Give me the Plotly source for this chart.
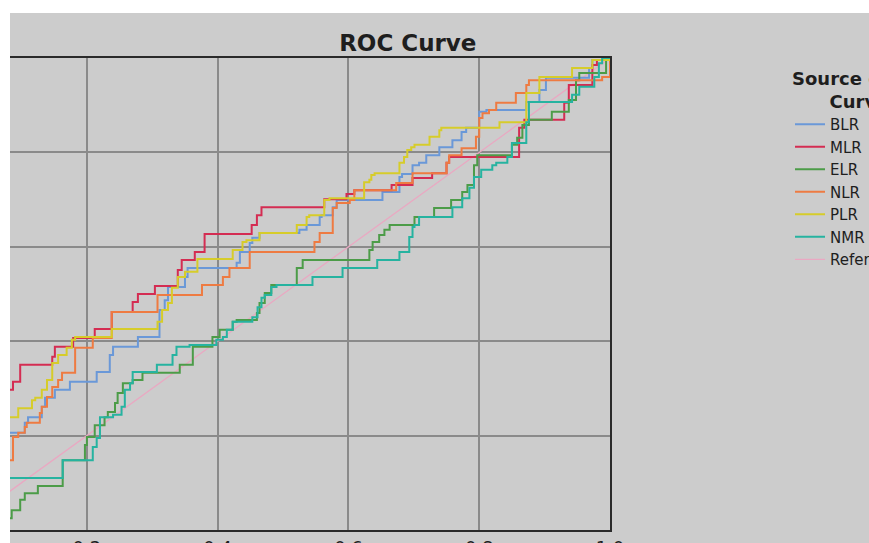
import plotly.graph_objects as go

# ---- data (false positive rate = 1 - specificity, true positive rate = sensitivity) ----
series_names = ["BLR", "MLR", "ELR", "NLR", "PLR", "NMR"]
series_colors = ["#6a98d8", "#d42c52", "#4c9c48", "#ee7b42", "#d6cc2a", "#26b3a0"]

blr_fpr = [0, 0.07, 0.105, 0.110, 0.131, 0.136, 0.151, 0.174, 0.215, 0.235, 0.240, 0.278, 0.311, 0.319,
           0.324, 0.350, 0.354, 0.429, 0.434, 0.449, 0.453, 0.464, 0.525, 0.536, 0.556, 0.559, 0.576,
           0.582, 0.652, 0.678, 0.682, 0.698, 0.708, 0.719, 0.739, 0.759, 0.773, 0.780, 0.800, 0.811,
           0.872, 0.892, 0.902, 0.968, 0.973, 1.0]
blr_tpr = [0, 0.206, 0.227, 0.239, 0.261, 0.280, 0.297, 0.314, 0.335, 0.371, 0.388, 0.409, 0.466, 0.487,
           0.515, 0.536, 0.555, 0.566, 0.589, 0.608, 0.619, 0.629, 0.636, 0.646, 0.663, 0.667, 0.684,
           0.699, 0.716, 0.748, 0.754, 0.773, 0.778, 0.794, 0.811, 0.826, 0.843, 0.852, 0.886, 0.890,
           0.907, 0.932, 0.958, 0.979, 0.996, 1.0]

mlr_fpr = [0, 0.07, 0.087, 0.098, 0.147, 0.151, 0.179, 0.212, 0.238, 0.270, 0.278, 0.304, 0.339, 0.345,
           0.365, 0.380, 0.452, 0.460, 0.467, 0.563, 0.597, 0.609, 0.666, 0.698, 0.728, 0.750, 0.754,
           0.861, 0.869, 0.930, 0.937, 0.973, 0.980, 1.0]
mlr_tpr = [0, 0.297, 0.314, 0.350, 0.367, 0.388, 0.407, 0.426, 0.462, 0.483, 0.500, 0.517, 0.551, 0.572,
           0.589, 0.627, 0.646, 0.667, 0.684, 0.701, 0.712, 0.720, 0.731, 0.746, 0.756, 0.778, 0.790,
           0.852, 0.869, 0.905, 0.943, 0.985, 0.996, 1.0]

elr_fpr = [0, 0.07, 0.085, 0.098, 0.105, 0.125, 0.163, 0.197, 0.200, 0.212, 0.227, 0.232, 0.243, 0.247,
           0.255, 0.270, 0.285, 0.342, 0.362, 0.392, 0.403, 0.423, 0.429, 0.460, 0.464, 0.472, 0.482,
           0.521, 0.530, 0.632, 0.637, 0.647, 0.655, 0.663, 0.701, 0.731, 0.757, 0.774, 0.782, 0.792,
           0.797, 0.850, 0.858, 0.866, 0.876, 0.911, 0.937, 0.948, 0.953, 0.994, 1.0]
elr_tpr = [0, 0.025, 0.042, 0.064, 0.078, 0.093, 0.148, 0.180, 0.197, 0.222, 0.239, 0.250, 0.269, 0.290,
           0.311, 0.318, 0.333, 0.350, 0.388, 0.409, 0.424, 0.441, 0.445, 0.460, 0.481, 0.502, 0.519,
           0.555, 0.572, 0.593, 0.610, 0.625, 0.636, 0.646, 0.663, 0.682, 0.699, 0.716, 0.731, 0.773,
           0.794, 0.816, 0.831, 0.858, 0.869, 0.886, 0.911, 0.953, 0.968, 0.996, 1.0]

nlr_fpr = [0, 0.07, 0.087, 0.095, 0.105, 0.108, 0.128, 0.131, 0.139, 0.147, 0.156, 0.162, 0.182, 0.209,
           0.238, 0.308, 0.376, 0.408, 0.418, 0.449, 0.548, 0.556, 0.576, 0.582, 0.602, 0.609, 0.673,
           0.698, 0.750, 0.754, 0.773, 0.795, 0.800, 0.805, 0.815, 0.826, 0.856, 0.872, 0.876, 0.988, 1.0]
nlr_tpr = [0, 0.148, 0.197, 0.206, 0.218, 0.227, 0.248, 0.261, 0.282, 0.303, 0.318, 0.333, 0.386, 0.407,
           0.462, 0.498, 0.519, 0.536, 0.555, 0.589, 0.610, 0.629, 0.682, 0.693, 0.699, 0.720, 0.735,
           0.756, 0.778, 0.794, 0.809, 0.833, 0.873, 0.883, 0.890, 0.905, 0.926, 0.943, 0.953, 0.960, 1.0]

plr_fpr = [0, 0.07, 0.095, 0.116, 0.121, 0.131, 0.139, 0.147, 0.156, 0.169, 0.177, 0.182, 0.238, 0.308,
           0.315, 0.324, 0.330, 0.339, 0.350, 0.369, 0.423, 0.438, 0.444, 0.464, 0.521, 0.536, 0.540,
           0.563, 0.571, 0.624, 0.632, 0.635, 0.640, 0.678, 0.685, 0.690, 0.696, 0.701, 0.724, 0.739,
           0.742, 0.831, 0.872, 0.892, 0.942, 0.973, 1.0]
plr_tpr = [0, 0.239, 0.258, 0.275, 0.280, 0.297, 0.318, 0.354, 0.371, 0.386, 0.403, 0.409, 0.426, 0.441,
           0.466, 0.481, 0.513, 0.536, 0.547, 0.574, 0.593, 0.610, 0.614, 0.629, 0.646, 0.663, 0.667,
           0.699, 0.703, 0.737, 0.742, 0.752, 0.756, 0.778, 0.790, 0.805, 0.811, 0.816, 0.833, 0.847,
           0.852, 0.864, 0.926, 0.960, 0.979, 0.996, 1.0]

nmr_fpr = [0, 0.07, 0.163, 0.209, 0.215, 0.220, 0.240, 0.253, 0.258, 0.266, 0.270, 0.307, 0.331, 0.337,
           0.357, 0.398, 0.408, 0.414, 0.423, 0.453, 0.461, 0.467, 0.472, 0.482, 0.490, 0.545, 0.591,
           0.644, 0.678, 0.693, 0.698, 0.701, 0.708, 0.759, 0.774, 0.785, 0.792, 0.803, 0.820, 0.826,
           0.843, 0.850, 0.872, 0.876, 0.942, 0.953, 0.976, 0.983, 0.988, 1.0]
nmr_tpr = [0, 0.110, 0.148, 0.176, 0.195, 0.239, 0.244, 0.261, 0.297, 0.311, 0.335, 0.350, 0.371, 0.388,
           0.392, 0.403, 0.409, 0.424, 0.441, 0.451, 0.472, 0.492, 0.498, 0.515, 0.519, 0.536, 0.555,
           0.572, 0.589, 0.621, 0.642, 0.646, 0.663, 0.684, 0.703, 0.725, 0.748, 0.763, 0.773, 0.778,
           0.790, 0.820, 0.864, 0.907, 0.922, 0.939, 0.960, 0.989, 1.0, 1.0]

reference_x = [0, 1]
reference_y = [0, 1]

x_ticks = [0.2, 0.4, 0.6, 0.8, 1.0]
y_ticks = [0.2, 0.4, 0.6, 0.8]

all_fpr = [blr_fpr, mlr_fpr, elr_fpr, nlr_fpr, plr_fpr, nmr_fpr]
all_tpr = [blr_tpr, mlr_tpr, elr_tpr, nlr_tpr, plr_tpr, nmr_tpr]

BG = "#cccccc"
GRID = "#8a8a8a"
TEXT = "#1e1e1e"
FONT = "DejaVu Sans"
NB = "\u00a0"

fig = go.Figure()

fig.add_trace(go.Scatter(
    x=reference_x, y=reference_y, mode="lines", name="Reference Line",
    line=dict(color="#eaa8c2", width=1.3), legendrank=1007, hoverinfo="skip"))

for i, (name, color) in enumerate(zip(series_names, series_colors)):
    fig.add_trace(go.Scatter(
        x=all_fpr[i], y=all_tpr[i], mode="lines", name=name,
        line=dict(color=color, width=2, shape="hv"), legendrank=1000 + i))

fig.update_layout(
    width=869, height=543,
    margin=dict(l=10, r=259, t=58, b=13, autoexpand=False),
    paper_bgcolor="white",
    plot_bgcolor=BG,
    font=dict(family=FONT, color=TEXT),
    title=dict(text="<b>ROC Curve</b>", font=dict(family=FONT, size=23, color=TEXT),
               x=0.663, xref="paper", xanchor="center",
               y=1 - 43 / 543, yref="container", yanchor="middle"),
    showlegend=True,
    legend=dict(
        title=dict(text="<b>Source of the<br>" + NB * 6 + "Curve</b>",
                   font=dict(family=FONT, size=18, color=TEXT), side="top"),
        font=dict(family=FONT, size=15, color=TEXT),
        x=1.300, xanchor="left", y=0.993, yanchor="top",
        bgcolor="rgba(0,0,0,0)", borderwidth=0, tracegroupgap=0,
    ),
    shapes=[dict(type="rect", xref="paper", yref="paper",
                 x0=0, x1=1.6, y0=-0.2, y1=(530 - 13) / 472,
                 fillcolor=BG, line=dict(width=0), layer="below")],
)

fig.update_xaxes(
    range=[0.0824, 1.0], tickvals=x_ticks, tickformat=".1f",
    showgrid=True, gridcolor=GRID, gridwidth=2, zeroline=False,
    showline=True, linecolor="#2a2a2a", linewidth=2, mirror=True,
    ticks="", tickfont=dict(family=FONT, size=18, color=TEXT),
)
fig.update_yaxes(
    range=[0, 1], tickvals=y_ticks,
    showgrid=True, gridcolor=GRID, gridwidth=2, zeroline=False,
    showline=True, linecolor="#2a2a2a", linewidth=2, side="right",
    ticks="", showticklabels=False,
)

fig.write_html("out.html", config={"displayModeBar": False},
               post_script="document.body.style.margin='0px';")
